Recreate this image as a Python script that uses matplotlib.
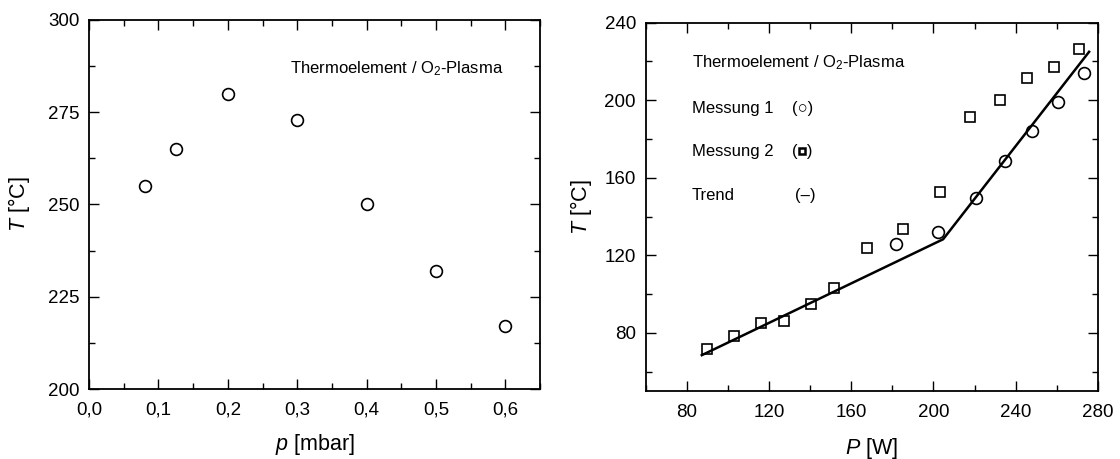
import matplotlib
matplotlib.use("Agg")
import matplotlib.pyplot as plt
from matplotlib.ticker import MultipleLocator, FuncFormatter

plt.rcParams['font.family'] = ['Liberation Sans', 'DejaVu Sans']
plt.rcParams['mathtext.fontset'] = 'custom'
plt.rcParams['mathtext.rm'] = 'Liberation Sans'
plt.rcParams['mathtext.it'] = 'Liberation Sans:italic'
plt.rcParams['mathtext.bf'] = 'Liberation Sans:bold'

# ---- data: left panel (pressure) ----
p_mbar = [0.08, 0.125, 0.2, 0.3, 0.4, 0.5, 0.6]
T_p = [255, 265, 280, 273, 250, 232, 217]

# ---- data: right panel (power) ----
P1_W = [182, 202, 220.5, 235, 248, 260.5, 273]
T1 = [125.6, 131.8, 149.7, 168.5, 184.3, 199.3, 214.2]
P2_W = [90, 103, 116, 127.5, 140.5, 151.5, 167.7, 185, 203, 217.6, 232.3, 245.7, 258.8, 271]
T2 = [71.5, 78.3, 85.1, 86.2, 94.7, 103.2, 123.8, 133.7, 152.8, 191.5, 200.2, 211.3, 217.1, 226.3]
trend_P = [87.3, 204.7, 275.7]
trend_T = [68.5, 128.3, 225.0]

fig = plt.figure(figsize=(11.2, 4.59), dpi=100)
axL = fig.add_axes([0.0795, 0.1525, 0.4027, 0.804])
axR = fig.add_axes([0.5765, 0.1481, 0.4038, 0.8024])

def style(ax):
    for s in ax.spines.values():
        s.set_linewidth(1.3)
    ax.tick_params(which='both', direction='in', top=True, right=True,
                   labelsize=13.5, width=1.0)
    ax.tick_params(axis='x', which='both', pad=9)
    ax.tick_params(axis='y', which='both', pad=7)
    ax.tick_params(which='major', length=7)
    ax.tick_params(which='minor', length=4)

comma = FuncFormatter(lambda v, pos: f"{v:.1f}".replace('.', ','))

# left
axL.plot(p_mbar, T_p, linestyle='none', marker='o', markersize=8.5,
         markerfacecolor='none', markeredgecolor='black', markeredgewidth=1.2)
axL.set_xlim(0, 0.65)
axL.set_ylim(200, 300)
axL.xaxis.set_major_locator(MultipleLocator(0.1))
axL.xaxis.set_minor_locator(MultipleLocator(0.05))
axL.xaxis.set_major_formatter(comma)
axL.yaxis.set_major_locator(MultipleLocator(25))
axL.yaxis.set_minor_locator(MultipleLocator(12.5))
style(axL)
axL.set_xlabel(r"$\mathit{p}$ [mbar]", fontsize=15.5)
axL.set_ylabel(r"$\mathit{T}$ [°C]", fontsize=15.5)
axL.xaxis.set_label_coords(0.5, -0.117)
axL.yaxis.set_label_coords(-0.126, 0.5)
axL.text(0.4446, 0.867, r"Thermoelement / O$_2$-Plasma", transform=axL.transAxes,
         fontsize=12, ha='left', va='center')

# right
axR.plot(trend_P, trend_T, color='black', linewidth=1.8)
axR.plot(P2_W, T2, linestyle='none', marker='s', markersize=7.5,
         markerfacecolor='none', markeredgecolor='black', markeredgewidth=1.2)
axR.plot(P1_W, T1, linestyle='none', marker='o', markersize=8.5,
         markerfacecolor='none', markeredgecolor='black', markeredgewidth=1.2)
axR.set_xlim(60, 280)
axR.set_ylim(50, 240)
axR.xaxis.set_major_locator(MultipleLocator(40))
axR.xaxis.set_minor_locator(MultipleLocator(20))
axR.yaxis.set_major_locator(MultipleLocator(40))
axR.yaxis.set_minor_locator(MultipleLocator(20))
style(axR)
axR.set_xlabel(r"$\mathit{P}$ [W]", fontsize=15.5)
axR.set_ylabel(r"$\mathit{T}$ [°C]", fontsize=15.5)
axR.xaxis.set_label_coords(0.5, -0.122)
axR.yaxis.set_label_coords(-0.115, 0.5)

tx = 0.1017
axR.text(tx, 0.891, r"Thermoelement / O$_2$-Plasma", transform=axR.transAxes,
         fontsize=12, ha='left', va='center')
axR.text(tx, 0.768, "Messung 1", transform=axR.transAxes, fontsize=12, ha='left', va='center')
axR.text(tx, 0.650, "Messung 2", transform=axR.transAxes, fontsize=12, ha='left', va='center')
axR.text(tx, 0.532, "Trend", transform=axR.transAxes, fontsize=12, ha='left', va='center')
axR.text(0.323, 0.768, "(\u25CB)", transform=axR.transAxes, fontsize=12, ha='left', va='center')
axR.text(0.323, 0.650, "(  )", transform=axR.transAxes, fontsize=12, ha='left', va='center')
axR.plot([0.345], [0.652], transform=axR.transAxes, linestyle='none', marker='s',
         markersize=5, markerfacecolor='white', markeredgecolor='black', markeredgewidth=1.8)
axR.text(0.330, 0.532, "(\u2013)", transform=axR.transAxes, fontsize=12, ha='left', va='center')

fig.savefig("out.png", dpi=100)
